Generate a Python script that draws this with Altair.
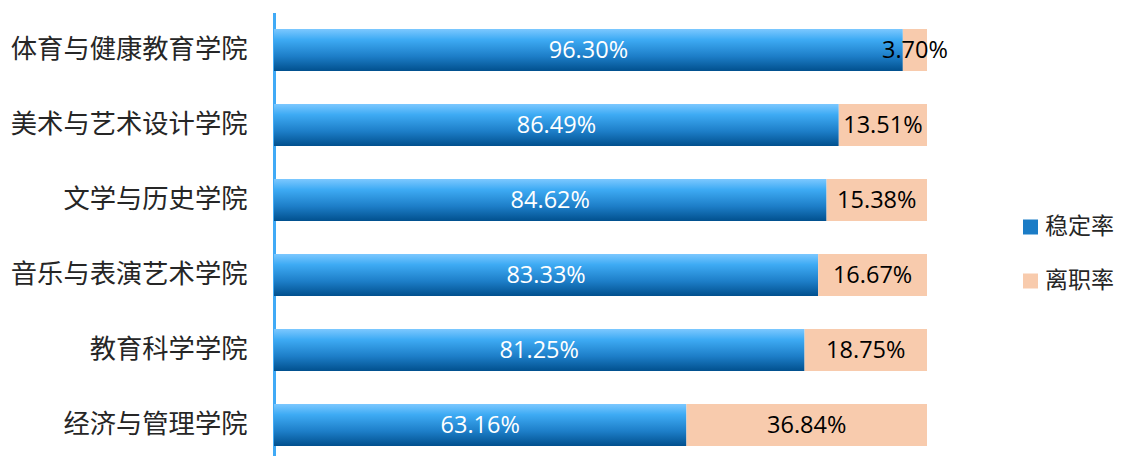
import altair as alt
import pandas as pd

colleges = ["体育与健康教育学院", "美术与艺术设计学院", "文学与历史学院",
            "音乐与表演艺术学院", "教育科学学院", "经济与管理学院"]
stable = [96.30, 86.49, 84.62, 83.33, 81.25, 63.16]
leave = [3.70, 13.51, 15.38, 16.67, 18.75, 36.84]
series = ["稳定率", "离职率"]

STOP_LIST = [(0, "#7cc8ff"), (0.25, "#3eabf4"), (0.65, "#1d7ec8"), (1, "#01508e")]
blue_grad = alt.Gradient(
    gradient="linear",
    stops=[alt.GradientStop(offset=o, color=c) for o, c in STOP_LIST],
    x1=0, x2=0, y1=0, y2=1,
)
PEACH = "#f8cbad"

df = pd.DataFrame({
    "college": colleges,
    "stable": stable,
    "leave": leave,
    "leaveName": [series[1]] * len(colleges),
})

y_enc = alt.Y(
    "college:N",
    sort=colleges,
    title=None,
    scale=alt.Scale(paddingInner=0.44, paddingOuter=0.22),
    axis=alt.Axis(
        domainColor="#40aaf6", domainWidth=3, ticks=False, grid=False,
        labelFont="Noto Sans CJK SC", labelFontSize=26.3, labelColor="#262626",
        labelPadding=27, labelLimit=400,
    ),
)
x_scale = alt.Scale(domain=[0, 100], nice=False, zero=True)

base = alt.Chart(df).transform_calculate(
    total="100",
    midS="datum.stable / 2",
    midL="datum.stable + datum.leave / 2",
    labS="format(datum.stable, '.2f') + '%'",
    labL="format(datum.leave, '.2f') + '%'",
)

bars_stable = base.mark_bar(fill=blue_grad).encode(
    y=y_enc,
    x=alt.X("stable:Q", scale=x_scale, axis=None),
)

bars_leave = base.mark_bar().encode(
    y=y_enc,
    x=alt.X("stable:Q", scale=x_scale, axis=None),
    x2="total:Q",
    color=alt.Color(
        "leaveName:N",
        scale=alt.Scale(domain=series, range=["#1b7cc6", PEACH]),
        legend=alt.Legend(
            title=None, orient="none", legendX=745, legendY=203,
            symbolType="square", symbolSize=225, symbolStrokeWidth=0,
            labelFont="Noto Sans CJK SC", labelFontSize=23, labelColor="#262626",
            labelOffset=3, rowPadding=30, labelLimit=300,
        ),
    ),
)

text_font = "Open Sans"
text_stable = base.mark_text(color="white", font=text_font, fontSize=23.5, baseline="middle", dy=1).encode(
    y=y_enc,
    x=alt.X("midS:Q", scale=x_scale, axis=None),
    text="labS:N",
)
text_leave = base.mark_text(color="black", font=text_font, fontSize=23.5, baseline="middle", dy=1).encode(
    y=y_enc,
    x=alt.X("midL:Q", scale=x_scale, axis=None),
    text="labL:N",
)

chart = alt.layer(bars_stable, bars_leave, text_stable, text_leave).properties(
    width=653, height=450,
    autosize=alt.AutoSizeParams(type="none"),
    padding={"left": 266, "top": 4.5, "right": 191, "bottom": 0},
    background="white",
).configure_view(stroke=None)

chart.save("out.html", embed_options={"renderer": "svg", "actions": False})
